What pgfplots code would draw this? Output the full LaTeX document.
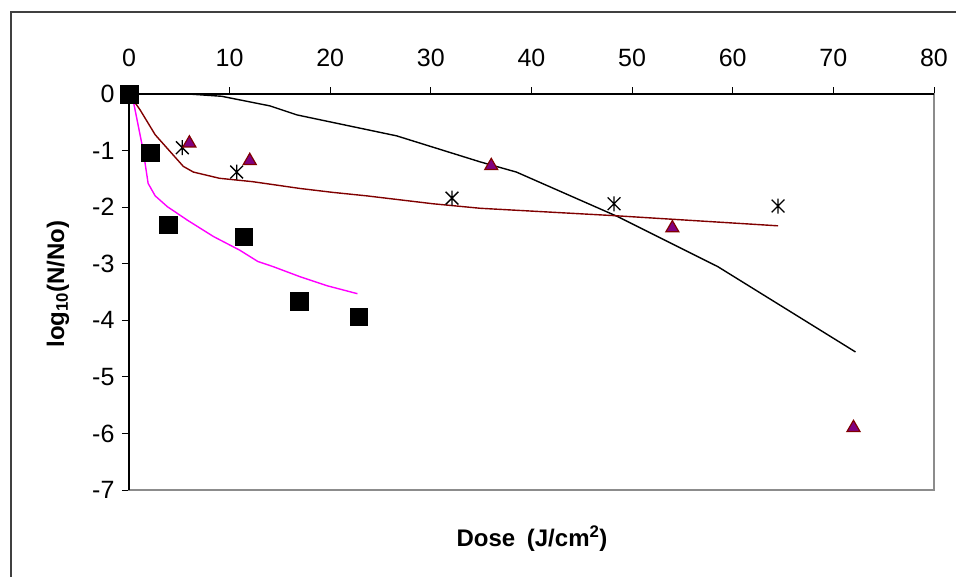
\documentclass[border=0pt]{standalone}
\usepackage{fontspec}
\setmainfont{Liberation Sans}
\usepackage{pgfplots}
\pgfplotsset{compat=1.18}
\definecolor{maroonc}{RGB}{128,0,0}
\definecolor{purplec}{RGB}{128,0,128}
\definecolor{magentac}{RGB}{255,0,255}
\pgfdeclareplotmark{xstar}{%
  \pgfpathmoveto{\pgfqpoint{0pt}{-\pgfplotmarksize}}%
  \pgfpathlineto{\pgfqpoint{0pt}{\pgfplotmarksize}}%
  \pgfpathmoveto{\pgfqpoint{-0.85\pgfplotmarksize}{-0.85\pgfplotmarksize}}%
  \pgfpathlineto{\pgfqpoint{0.85\pgfplotmarksize}{0.85\pgfplotmarksize}}%
  \pgfpathmoveto{\pgfqpoint{-0.85\pgfplotmarksize}{0.85\pgfplotmarksize}}%
  \pgfpathlineto{\pgfqpoint{0.85\pgfplotmarksize}{-0.85\pgfplotmarksize}}%
  \pgfusepathqstroke}
\begin{document}
\begin{tikzpicture}
\path[use as bounding box] (0pt,0pt) rectangle (956pt,-577pt);
\draw[line width=1.5pt, black!75] (11pt,-577pt) -- (11pt,-12pt) -- (956pt,-12pt);
\begin{axis}[
 at={(129pt,-490pt)}, anchor=south west,
 scale only axis, width=805pt, height=396pt,
 xmin=0,xmax=80,ymin=-7,ymax=0,
 xtick={0,10,...,80}, ytick={-7,-6,...,0},
 axis line style={black!45, line width=1.2pt},
 xtick pos=right, ytick pos=left, tick align=outside,
 major tick length=7pt,
 tick style={black, line width=0.9pt},
 tick label style={font=\fontsize{25}{29}\selectfont},
 xticklabel style={yshift=17pt},
 yticklabel style={xshift=-4pt},
 /pgf/number format/assume math mode=true,
 clip=false,
]
\addplot[black, line width=1.4pt] coordinates {(0,0) (5.9,0) (9.2,-0.04) (14,-0.21) (16.7,-0.37) (26.6,-0.74) (34.9,-1.2) (38.5,-1.38) (48.6,-2.17) (58.5,-3.05) (72.2,-4.56)};
\addplot[maroonc, line width=1.4pt] coordinates {(0,0) (1.1,-0.28) (2.6,-0.72) (5.4,-1.28) (6.4,-1.38) (9,-1.49) (12.3,-1.55) (17,-1.67) (20.3,-1.74) (23.6,-1.80) (30.2,-1.94) (34.9,-2.02) (48.2,-2.15) (64.5,-2.33)};
\addplot[magentac, line width=1.4pt] coordinates {(0,0) (0.4,-0.1) (1.4,-0.99) (1.9,-1.58) (2.6,-1.80) (3.8,-1.99) (5.8,-2.23) (8.4,-2.52) (11,-2.76) (12.8,-2.96) (14.3,-3.05) (17,-3.23) (19.7,-3.39) (22.7,-3.53)};
\addplot[only marks, mark=xstar, mark size=7.5pt, mark options={black, line width=1.3pt}] coordinates {(5.3,-0.95) (10.7,-1.38) (32.1,-1.84) (48.2,-1.94) (64.5,-1.98)};
\addplot[only marks, mark=triangle*, mark size=7.5pt, mark options={draw=maroonc, fill=purplec, line width=1.2pt}] coordinates {(6,-0.87) (12,-1.18) (36,-1.27) (54,-2.37) (72,-5.9)};
\addplot[only marks, mark=square*, mark size=8.7pt, mark options={black, fill=black}] coordinates {(0,0) (2.1,-1.04) (3.9,-2.31) (11.4,-2.52) (16.9,-3.66) (22.8,-3.94)};
\draw[black, line width=1.2pt] (rel axis cs:0,0) -- (rel axis cs:0,1) -- (rel axis cs:1,1);
\end{axis}
\node[rotate=90, font=\fontsize{24}{28}\selectfont\bfseries] at (58pt,-284pt) {log\textsubscript{10}(N/No)};
\node[font=\fontsize{24}{28}\selectfont\bfseries] at (532pt,-539pt) {Dose\hspace{5pt} (J/cm\textsuperscript{2})};
\end{tikzpicture}
\end{document}
